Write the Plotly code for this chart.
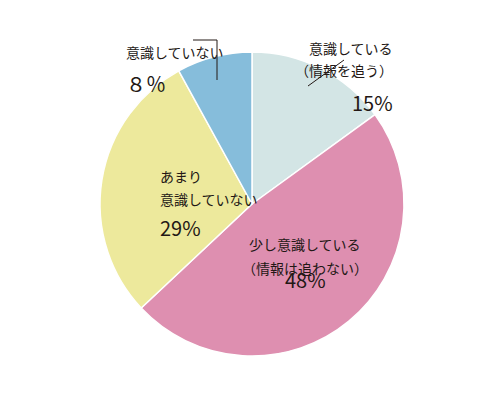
import plotly.graph_objects as go

labels = ["意識している（情報を追う）", "少し意識している（情報は追わない）", "あまり意識していない", "意識していない"]
values = [15, 48, 29, 8]
colors = ["#d3e5e5", "#de8fb0", "#ede99c", "#86bddb"]

O = 8  # page offset
def px(x): return (x - O) / 500
def py(y): return 1 - (y - O) / 400

fig = go.Figure(go.Pie(labels=labels, values=values, sort=False, direction="clockwise",
                       rotation=0, textinfo="none", hoverinfo="label+percent",
                       marker=dict(colors=colors, line=dict(color="white", width=1.5)),
                       domain=dict(x=[px(100), px(404)], y=[py(356), py(52)])))

F = "Noto Sans CJK JP"
C = "#231815"
def line(x, y, t, s):
    fig.add_annotation(x=px(x), y=py(y), xref="paper", yref="paper", showarrow=False,
                       text=t, font=dict(family=F, color=C, size=s), align="center")

line(395, 36, "意識している", 14)
line(395, 58, "（情報を追う）", 14)
line(395, 86, "15%", 20)
line(305, 244, "少し意識している", 14)
line(305, 268, "（情報は追わない）", 14)
line(305, 296, "48%", 20)
line(158, 176, "あまり", 14)
line(158, 199, "意識していない", 14)
line(158, 227, "29%", 20)
line(124, 40, "意識していない", 14)
line(124, 67, "８％", 20)

for x0, y0, x1, y1 in [(344, 60, 308, 86), (193, 40, 217, 40), (217, 40, 217, 80)]:
    fig.add_shape(type="line", xref="paper", yref="paper", x0=px(x0), y0=py(y0), x1=px(x1), y1=py(y1),
                  line=dict(color=C, width=1))

fig.update_layout(width=500, height=400, margin=dict(l=0, r=0, t=0, b=0), showlegend=False,
                  paper_bgcolor="white")
fig.write_html("out.html")
